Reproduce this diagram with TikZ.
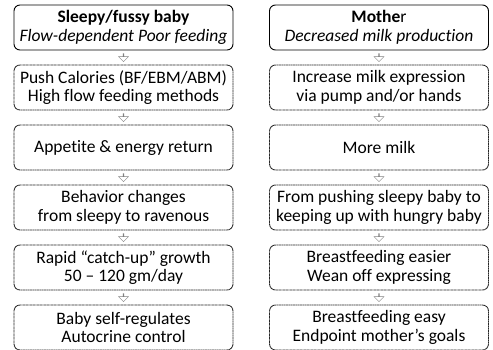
\documentclass[tikz,border=0pt]{standalone}
\usepackage{fontspec}
\setmainfont{Carlito}[Ligatures={NoCommon}]
\usepackage{tikz}
\usetikzlibrary{positioning, shapes.arrows, calc}
\tikzstyle{headbox} = [rectangle, rounded corners=6pt, minimum width=219pt, minimum height=45pt, text centered, draw=black, line width=0.9pt]
\tikzstyle{process} = [rectangle, rounded corners=6pt, minimum width=219pt, minimum height=45pt, text centered, draw=black!85, dash pattern=on 1pt off 0.4pt, line width=0.9pt]
\tikzstyle{flowarrow} = [single arrow, draw=gray, fill=white, solid, line width=0.4pt, shape border rotate=270, minimum height=8pt, minimum width=10pt, single arrow head extend=2.5pt, inner sep=0pt]
\tikzstyle{every node}=[font=\fontsize{17.5}{18.5}\selectfont]

\begin{document}
\begin{tikzpicture}[node distance=60pt, align=center]
    \useasboundingbox (0,0) rectangle (493pt,-349pt);
    % baby column
    \node (baby) [headbox] at (123.5pt,-27.5pt) {\textbf{Sleepy/fussy baby}\\ \textit{Flow-dependent Poor feeding}};
    \node (push) [process, below of = baby] {Push Calories (BF/EBM/ABM)\\ High flow feeding methods};
    \node (appetite) [process, below of = push] {Appetite \& energy return};
    \node (behavior) [process, below of = appetite] {Behavior changes\\ from sleepy to ravenous};
    \node (growth) [process, below of = behavior] {Rapid “catch-up” growth\\ 50 – 120 gm/day};
    \node (selfreg) [process, below of = growth] {Baby self-regulates\\ Autocrine control};

    % mother column
    \node (mother) [headbox, right of = baby, xshift = 195.5pt] {\textbf{Mothe}r\\ \textit{Decreased milk production}};
    \node (express) [process, below of = mother] {Increase milk expression\\ via pump and/or hands};
    \node (moremilk) [process, below of = express] {More milk};
    \node (keepup) [process, below of = moremilk] {From pushing sleepy baby to\\ keeping up with hungry baby};
    \node (easier) [process, below of = keepup] {Breastfeeding easier\\ Wean off expressing};
    \node (easy) [process, below of = easier] {Breastfeeding easy\\ Endpoint mother’s goals};

    % arrows
    \path (baby) -- node[flowarrow] {} (push);
    \path (push) -- node[flowarrow] {} (appetite);
    \path (appetite) -- node[flowarrow] {} (behavior);
    \path (behavior) -- node[flowarrow] {} (growth);
    \path (growth) -- node[flowarrow] {} (selfreg);
    \path (mother) -- node[flowarrow] {} (express);
    \path (express) -- node[flowarrow] {} (moremilk);
    \path (moremilk) -- node[flowarrow] {} (keepup);
    \path (keepup) -- node[flowarrow] {} (easier);
    \path (easier) -- node[flowarrow] {} (easy);
\end{tikzpicture}
\end{document}
